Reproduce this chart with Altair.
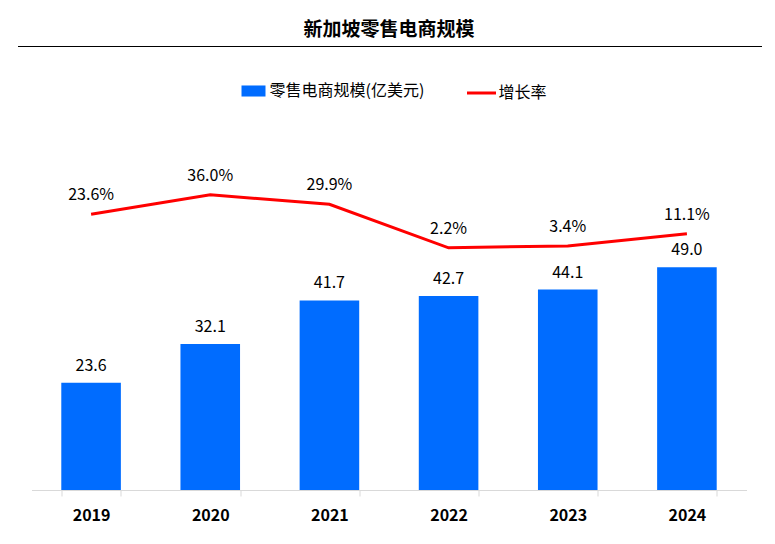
import altair as alt
import pandas as pd

years = ["2019", "2020", "2021", "2022", "2023", "2024"]
scale_values = [23.6, 32.1, 41.7, 42.7, 44.1, 49.0]
growth_rates = [23.6, 36.0, 29.9, 2.2, 3.4, 11.1]
bar_series = "零售电商规模(亿美元)"
line_series = "增长率"
title_text = "新加坡零售电商规模"

BLUE = "#006cff"
RED = "#ff0000"
FONT = "Noto Sans CJK SC"

df = pd.DataFrame({
    "year": years,
    "scale": scale_values,
    "rate": growth_rates,
    "bar_s": [bar_series] * len(years),
    "line_s": [line_series] * len(years),
})
df["scale_label"] = [f"{v:.1f}" for v in scale_values]
df["rate_label"] = [f"{v:.1f}%" for v in growth_rates]

x_enc = alt.X(
    "year:N",
    sort=years,
    title=None,
    scale=alt.Scale(paddingInner=0.5, paddingOuter=0.25),
    axis=alt.Axis(
        labelAngle=0, domainColor="#d9d9d9", tickColor="#d9d9d9", tickSize=6,
        tickBand="extent", labelFontSize=16, labelFontWeight="bold",
        labelColor="#000000", labelFont=FONT, labelPadding=11, grid=False,
    ),
)

y_bar = alt.Y("scale:Q", scale=alt.Scale(domain=[0, 66]), axis=None)
y_line = alt.Y("rate:Q", scale=alt.Scale(domain=[-152, 39]), axis=None)

base = alt.Chart(df)

bars = base.mark_bar(color=BLUE).encode(
    x=x_enc,
    y=y_bar,
    color=alt.Color(
        "bar_s:N",
        scale=alt.Scale(domain=[bar_series], range=[BLUE]),
        legend=alt.Legend(
            orient="none", legendX=210, legendY=-111, title=None,
            symbolType="M-1,-0.46L1,-0.46L1,0.46L-1,0.46Z", symbolSize=576,
            symbolStrokeWidth=0, labelFont=FONT, labelFontSize=16,
            labelColor="#000000", labelOffset=4, padding=0,
        ),
    ),
)

bar_text = base.mark_text(
    font=FONT, fontSize=16, color="#000000", baseline="alphabetic", dy=-12
).encode(x=x_enc, y=y_bar, text="scale_label:N")

line = base.mark_line(strokeWidth=3).encode(
    x=x_enc,
    y=y_line,
    stroke=alt.Stroke(
        "line_s:N",
        scale=alt.Scale(domain=[line_series], range=[RED]),
        legend=alt.Legend(
            orient="none", legendX=434, legendY=-113, title=None,
            symbolType="stroke", symbolSize=841, symbolStrokeWidth=3,
            labelFont=FONT, labelFontSize=16, labelColor="#000000",
            labelOffset=1, padding=0,
        ),
    ),
)

line_text = base.mark_text(
    font=FONT, fontSize=16, color="#000000", baseline="alphabetic", dy=-14
).encode(x=x_enc, y=y_line, text="rate_label:N")

one = alt.Data(values=[{"t": title_text}])
title = alt.Chart(one).mark_text(
    font=FONT, fontSize=19, fontWeight="bold", color="#000000", baseline="middle"
).encode(x=alt.value(357.5), y=alt.value(-160), text="t:N")

title_rule = alt.Chart(one).mark_rule(color="#000000", strokeWidth=1).encode(
    x=alt.value(-13.5), x2=alt.value(730.5), y=alt.value(-143.5)
)

chart = alt.layer(
    title_rule, title, bars, bar_text, line, line_text
).resolve_scale(y="independent").properties(
    width=715,
    height=300,
    padding={"left": 23.5, "top": 182, "right": 20, "bottom": 46},
    autosize=alt.AutoSizeParams(type="none"),
).configure_view(stroke=None)

chart.save("out.html", embed_options={"renderer": "svg", "actions": False})
